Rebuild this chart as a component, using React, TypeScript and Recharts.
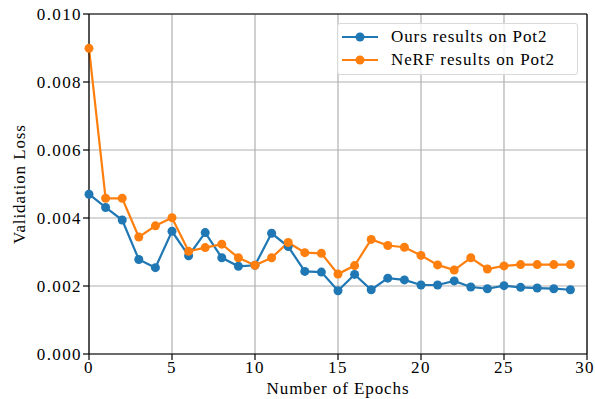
import React from "react";
import {
  LineChart,
  Line,
  XAxis,
  YAxis,
  CartesianGrid,
  ReferenceLine,
} from "recharts";

const epochs = Array.from({ length: 30 }, (_, i) => i);

const oursLoss = [
  0.0047, 0.00431, 0.00394, 0.00278, 0.00254, 0.00361, 0.00289, 0.00357,
  0.00283, 0.00258, 0.00261, 0.00355, 0.00316, 0.00243, 0.00241, 0.00186,
  0.00234, 0.00189, 0.00223, 0.00218, 0.00203, 0.00203, 0.00215, 0.00197,
  0.00192, 0.00201, 0.00196, 0.00194, 0.00192, 0.00189,
];

const nerfLoss = [
  0.00899, 0.00458, 0.00458, 0.00344, 0.00377, 0.00401, 0.00302, 0.00313,
  0.00323, 0.00283, 0.00261, 0.00283, 0.00328, 0.00298, 0.00296, 0.00235,
  0.0026, 0.00337, 0.00319, 0.00314, 0.0029, 0.00262, 0.00247, 0.00283,
  0.0025, 0.00259, 0.00263, 0.00263, 0.00263, 0.00263,
];

const xTicks = [0, 5, 10, 15, 20, 25, 30];
const yTicks = [0, 0.002, 0.004, 0.006, 0.008, 0.01];

const seriesNames = ["Ours results on Pot2", "NeRF results on Pot2"];
const seriesColors = ["#1f77b4", "#ff7f0e"];

const data = epochs.map((e, i) => ({ epoch: e, ours: oursLoss[i], nerf: nerfLoss[i] }));

// no DejaVu Serif here, so a wider-spaced Liberation Serif stands in
const FONT = "'Liberation Serif', serif";
const FS = 17;

function LegendBox() {
  return (
    <div
      style={{
        position: "absolute",
        left: 337,
        top: 23,
        width: 241,
        height: 52,
        boxSizing: "border-box",
        border: "1px solid #d9d9d9",
        borderRadius: 3,
        background: "rgba(255,255,255,0.8)",
        padding: "1px 0 0 4px",
        fontFamily: FONT,
        fontSize: FS,
        letterSpacing: 0.9,
        color: "#000",
      }}
    >
      {seriesNames.map((name, i) => (
        <div key={name} style={{ display: "flex", alignItems: "center", height: 23 }}>
          <svg width={36} height={12} style={{ marginRight: 13 }}>
            <line x1={0} y1={6} x2={36} y2={6} stroke={seriesColors[i]} strokeWidth={2.2} />
            <circle cx={18} cy={6} r={4.5} fill={seriesColors[i]} />
          </svg>
          <span>{name}</span>
        </div>
      ))}
    </div>
  );
}

const tickStyle = { fill: "#000", fontFamily: FONT, fontSize: FS, letterSpacing: 1.4 };

export default function App() {
  return (
    <div style={{ position: "absolute", left: 0, top: 0, background: "#fff", fontFamily: FONT }}>
      <LineChart
        width={595}
        height={399}
        data={data}
        margin={{ top: 14, right: 8, bottom: 0, left: 0 }}
        style={{ fontFamily: FONT }}
      >
        <CartesianGrid stroke="#b0b0b0" strokeWidth={1.2} />
        <XAxis
          dataKey="epoch"
          type="number"
          domain={[0, 30]}
          ticks={xTicks}
          height={45}
          tickSize={6}
          tickMargin={1}
          tick={tickStyle}
          axisLine={{ stroke: "#000", strokeWidth: 1.2 }}
          tickLine={{ stroke: "#000", strokeWidth: 1.2 }}
          label={{
            value: "Number of Epochs",
            position: "insideBottom",
            offset: 5,
            fill: "#000",
            fontFamily: FONT,
            fontSize: FS,
            letterSpacing: 0.9,
          }}
        />
        <YAxis
          type="number"
          domain={[0, 0.01]}
          ticks={yTicks}
          width={89}
          tickSize={6}
          tickMargin={1}
          tickFormatter={(v: number) => v.toFixed(3)}
          tick={tickStyle}
          axisLine={{ stroke: "#000", strokeWidth: 1.2 }}
          tickLine={{ stroke: "#000", strokeWidth: 1.2 }}
          label={{
            value: "Validation Loss",
            angle: -90,
            position: "insideLeft",
            offset: 19,
            style: { textAnchor: "middle" },
            fill: "#000",
            fontFamily: FONT,
            fontSize: FS,
            letterSpacing: 0.9,
          }}
        />
        <ReferenceLine y={0.01} stroke="#000" strokeWidth={1.2} />
        <ReferenceLine x={30} stroke="#000" strokeWidth={1.2} />
        <Line
          dataKey="ours"
          name={seriesNames[0]}
          stroke={seriesColors[0]}
          strokeWidth={2.2}
          dot={{ r: 4.5, fill: seriesColors[0], stroke: seriesColors[0], strokeWidth: 0 }}
          activeDot={false}
          isAnimationActive={false}
        />
        <Line
          dataKey="nerf"
          name={seriesNames[1]}
          stroke={seriesColors[1]}
          strokeWidth={2.2}
          dot={{ r: 4.5, fill: seriesColors[1], stroke: seriesColors[1], strokeWidth: 0 }}
          activeDot={false}
          isAnimationActive={false}
        />
      </LineChart>
      <LegendBox />
    </div>
  );
}
